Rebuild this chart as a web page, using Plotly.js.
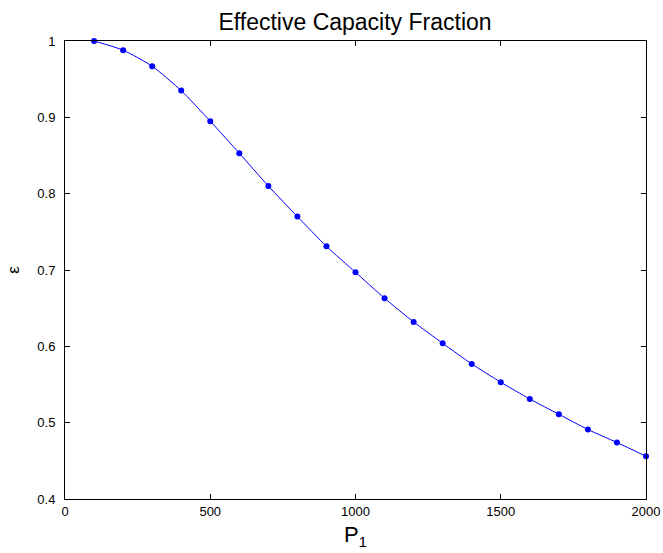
<!DOCTYPE html>
<html>
<head>
<meta charset="utf-8">
<script src="https://cdn.plot.ly/plotly-3.0.1.min.js"></script>
<style>html,body{margin:0;padding:0;background:#fff;}#chart{width:663px;height:553px;}</style>
</head>
<body>
<div id="chart"></div>
<script>
const P1 = [100, 200, 300, 400, 500, 600, 700, 800, 900, 1000, 1100, 1200, 1300, 1400, 1500, 1600, 1700, 1800, 1900, 2000];
const epsilon = [1.0, 0.988, 0.967, 0.935, 0.895, 0.853, 0.810, 0.770, 0.731, 0.697, 0.663, 0.632, 0.604, 0.577, 0.553, 0.531, 0.511, 0.491, 0.474, 0.456];
const xTicks = [0, 500, 1000, 1500, 2000];
const yTicks = [0.4, 0.5, 0.6, 0.7, 0.8, 0.9, 1];
const yTickText = ['0.4', '0.5', '0.6', '0.7', '0.8', '0.9', '1'];

const font = 'Liberation Sans, Arial, Helvetica, sans-serif';

const trace = {
  x: P1, y: epsilon, type: 'scatter', mode: 'lines+markers',
  line: {color: '#0000ff', width: 1, shape: 'spline', smoothing: 0.6},
  marker: {color: '#0000ff', size: 6, symbol: 'circle'},
  cliponaxis: false
};

const layout = {
  width: 663, height: 553,
  margin: {l: 65, r: 17, t: 41, b: 54},
  paper_bgcolor: '#fff', plot_bgcolor: '#fff',
  showlegend: false,
  font: {family: font, color: '#000', size: 13},
  title: {text: 'Effective Capacity Fraction', font: {family: font, size: 23, color: '#000'},
          x: 0.5355, xanchor: 'center', y: 0.96, yanchor: 'middle'},
  xaxis: {
    range: [0, 2000], tickvals: xTicks, ticktext: xTicks.map(String),
    ticks: 'inside', ticklen: 5, tickcolor: '#000', tickwidth: 1,
    showline: true, linecolor: '#000', linewidth: 1, mirror: 'ticks',
    showgrid: false, zeroline: false,
    tickfont: {family: font, size: 13, color: '#000'},
    title: {text: 'P<sub>1</sub>', font: {family: font, size: 22, color: '#000'}, standoff: 9}
  },
  yaxis: {
    range: [0.4, 1], tickvals: yTicks, ticktext: yTickText,
    ticks: 'inside', ticklen: 5, tickcolor: '#000', tickwidth: 1,
    showline: true, linecolor: '#000', linewidth: 1, mirror: 'ticks',
    showgrid: false, zeroline: false, ticklabelstandoff: 6,
    tickfont: {family: font, size: 13, color: '#000'},
    title: {text: 'ε', font: {family: font, size: 17, color: '#000'}, standoff: 13}
  }
};

Plotly.newPlot('chart', [trace], layout, {displayModeBar: false, staticPlot: true});
</script>
</body>
</html>
